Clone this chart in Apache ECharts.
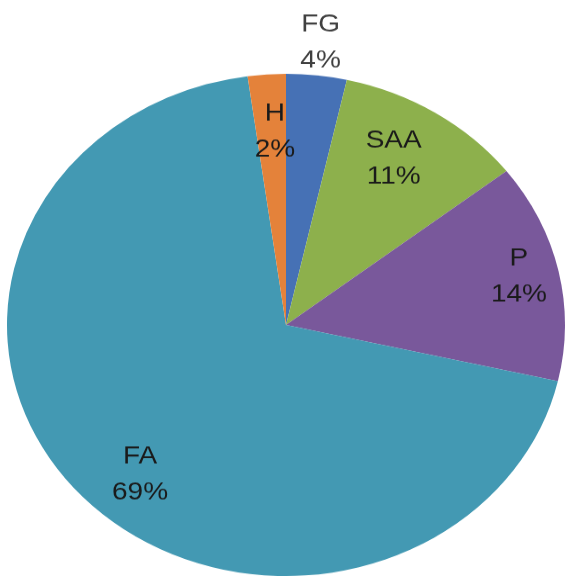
<!DOCTYPE html>
<html>
<head>
<meta charset="utf-8">
<script src="https://cdn.jsdelivr.net/npm/echarts@6/dist/echarts.min.js"></script>
<style>
  html, body { margin: 0; padding: 0; background: #ffffff; overflow: hidden; }
  #wrap { width: 568px; height: 581px; overflow: hidden; position: relative; }
  #chart { width: 568px; height: 646px; transform: scaleY(0.9); transform-origin: 0 0; }
</style>
</head>
<body>
<div id="wrap"><div id="chart"></div></div>
<script>
// Data (clockwise from 12 o'clock)
var categories = ['FG', 'SAA', 'P', 'FA', 'H'];
var shares = [3.5, 11.0, 14.1, 69.2, 2.2];

// Styling
var colors = ['#4671b5', '#8db04c', '#79589b', '#4399b3', '#e4823a'];
var labelColors = ['#404040', '#1a1a1a', '#1a1a1a', '#1a1a1a', '#1a1a1a'];
// [radius fraction, angle offset in degrees] for each label
var labelPlacement = [[1.13, 0], [0.767, -2.2], [0.857, -0.6], [0.794, -6.3], [0.77, 1]];

var CX = 286, CY = 361, R = 279;

var total = shares.reduce(function (a, b) { return a + b; }, 0);
var midAngles = [];
var acc = 0;
shares.forEach(function (v) {
  midAngles.push((acc + v / 2) / total * 360);
  acc += v;
});

var chart = echarts.init(document.getElementById('chart'), null, { renderer: 'canvas' });
chart.setOption({
  animation: false,
  backgroundColor: '#ffffff',
  series: [{
    type: 'pie',
    center: [CX, CY],
    radius: [0, R],
    startAngle: 90,
    clockwise: true,
    avoidLabelOverlap: false,
    itemStyle: { borderWidth: 0 },
    label: {
      show: true,
      position: 'inside',
      fontFamily: 'Liberation Sans, Arial, sans-serif',
      fontSize: 28,
      lineHeight: 40,
      align: 'center',
      formatter: function (p) { return p.name + '\n' + Math.round(p.percent) + '%'; }
    },
    labelLine: { show: false },
    labelLayout: function (p) {
      var i = p.dataIndex;
      var pl = labelPlacement[i];
      var a = (midAngles[i] + pl[1]) * Math.PI / 180;
      var r = R * pl[0];
      return {
        x: CX + r * Math.sin(a),
        y: CY - r * Math.cos(a),
        align: 'center',
        verticalAlign: 'middle'
      };
    },
    data: categories.map(function (c, i) {
      return {
        name: c,
        value: shares[i],
        itemStyle: { color: colors[i] },
        label: { color: labelColors[i] }
      };
    })
  }]
});
</script>
</body>
</html>
